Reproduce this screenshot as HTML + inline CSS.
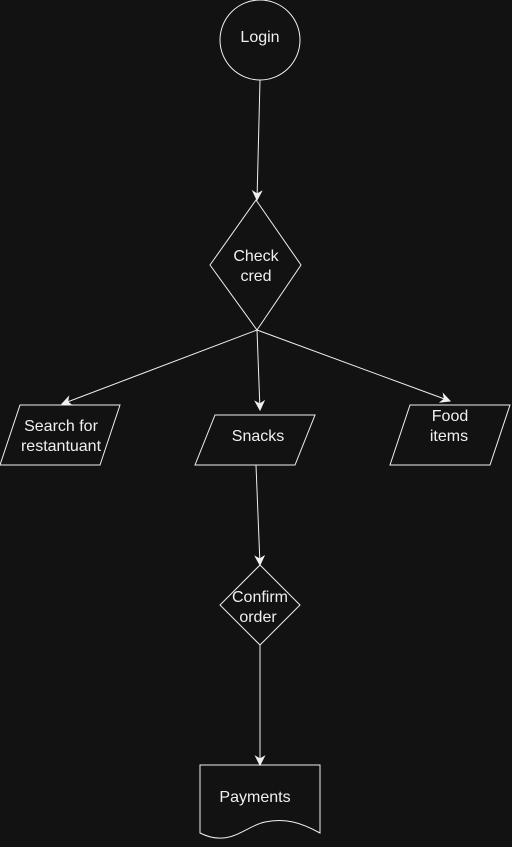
<!DOCTYPE html>
<html><head><meta charset="utf-8"><style>
html,body{margin:0;padding:0;background:#121212;}
svg{display:block}
text{font-family:"Liberation Sans",sans-serif;font-size:16px;fill:#f0f0f0;text-anchor:middle}
</style></head><body>
<svg width="512" height="847" viewBox="0 0 512 847">
<defs>
<marker id="a" viewBox="0 0 10 10" refX="9" refY="5" markerWidth="11" markerHeight="11" orient="auto-start-reverse" markerUnits="userSpaceOnUse">
<path d="M0,0 L10,5 L0,10 L3,5 z" fill="#f0f0f0"/>
</marker>
</defs>
<g stroke="#f0f0f0" stroke-width="1" fill="none">
<circle cx="260" cy="40" r="40"/>
<line x1="260" y1="80" x2="257" y2="200" marker-end="url(#a)"/>
<polygon points="256,200 301,265 257,330 210,265"/>
<line x1="257" y1="330" x2="62" y2="404" marker-end="url(#a)"/>
<line x1="257" y1="330" x2="260" y2="410" marker-end="url(#a)"/>
<line x1="257" y1="330" x2="450" y2="401" marker-end="url(#a)"/>
<polygon points="20,405 120,405 100,465 0,465"/>
<polygon points="215,415 315,415 295,465 195,465"/>
<polygon points="410,405 510,405 490,465 390,465"/>
<line x1="256" y1="465" x2="260" y2="565" marker-end="url(#a)"/>
<polygon points="260,565 300,605 260,645 220,605"/>
<line x1="260" y1="645" x2="260" y2="765" marker-end="url(#a)"/>
<path d="M200,765 L320,765 L320,833 C300,822 285,818 265,822 C245,826 230,848 200,833 Z"/>
</g>
<text x="260" y="42">Login</text>
<text x="256" y="261">Check</text>
<text x="256" y="281">cred</text>
<text x="61" y="431">Search for</text>
<text x="61" y="451">restantuant</text>
<text x="258" y="441">Snacks</text>
<text x="450" y="421">Food</text>
<text x="449" y="441">items</text>
<text x="260" y="602">Confirm</text>
<text x="258" y="622">order</text>
<text x="255" y="802">Payments</text>
</svg>
</body></html>
